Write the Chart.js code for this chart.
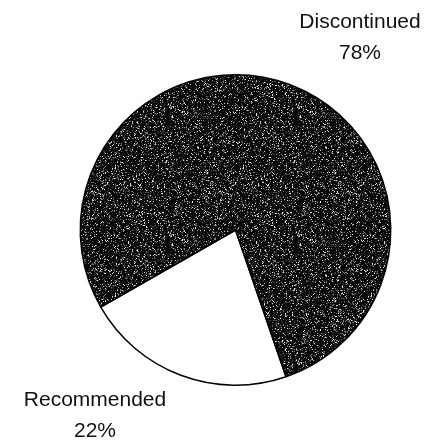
<!DOCTYPE html>
<html>
<head>
<meta charset="utf-8">
<script src="https://cdn.jsdelivr.net/npm/chart.js@4/dist/chart.umd.min.js"></script>
<style>
    html, body { margin: 0; padding: 0; background: #fff; }
    #wrap { width: 437px; height: 441px; }
</style>
</head>
<body>
<div id="wrap"><canvas id="pieChart" width="437" height="441"></canvas></div>
<script>
const categories = ['Recommended', 'Discontinued'];
const shares = [22, 78];

// grainy dark fill, built from a fixed hash so it looks the same every run
const hash = (x, y) => {
    let h = Math.imul(x, 0x27d4eb2d) ^ Math.imul(y, 0x165667b1);
    h = Math.imul(h ^ (h >>> 15), 0x85ebca6b);
    h = Math.imul(h ^ (h >>> 13), 0xc2b2ae35);
    return (h ^ (h >>> 16)) >>> 0;
};

const makeGrain = () => {
    const size = 128;
    const c = document.createElement('canvas');
    c.width = size;
    c.height = size;
    const g = c.getContext('2d');
    const img = g.createImageData(size, size);
    for (let y = 0; y < size; y++) {
        for (let x = 0; x < size; x++) {
            const v = hash(x + 1, y + 1) % 100;
            let shade = 8;
            if (v < 5) shade = 225;
            else if (v < 14) shade = 130;
            else if (v < 28) shade = 50;
            const i = (y * size + x) * 4;
            img.data[i] = shade;
            img.data[i + 1] = shade;
            img.data[i + 2] = shade;
            img.data[i + 3] = 255;
        }
    }
    g.putImageData(img, 0, 0);
    return g.createPattern(c, 'repeat');
};

const labelPositions = {
    Discontinued: { x: 360, y: 22 },
    Recommended: { x: 95, y: 400 },
};

const outsideLabels = {
    id: 'outsideLabels',
    afterDraw(chart) {
        const ctx = chart.ctx;
        ctx.save();
        ctx.fillStyle = '#111';
        ctx.font = '21px "Liberation Sans", Arial, sans-serif';
        ctx.textAlign = 'center';
        ctx.textBaseline = 'middle';
        categories.forEach((name, i) => {
            const pos = labelPositions[name];
            ctx.fillText(name, pos.x, pos.y);
            ctx.fillText(shares[i] + '%', pos.x, pos.y + 31);
        });
        ctx.restore();
    },
};

new Chart(document.getElementById('pieChart'), {
    type: 'pie',
    data: {
        labels: categories,
        datasets: [{
            data: shares,
            backgroundColor: ['#ffffff', makeGrain()],
            borderColor: '#000',
            borderWidth: 1.5,
        }],
    },
    options: {
        responsive: false,
        animation: false,
        rotation: 161,
        layout: {
            padding: { left: 79, right: 45, top: 74, bottom: 55 },
        },
        plugins: {
            legend: { display: false },
            tooltip: { enabled: false },
        },
    },
    plugins: [outsideLabels],
});
</script>
</body>
</html>
